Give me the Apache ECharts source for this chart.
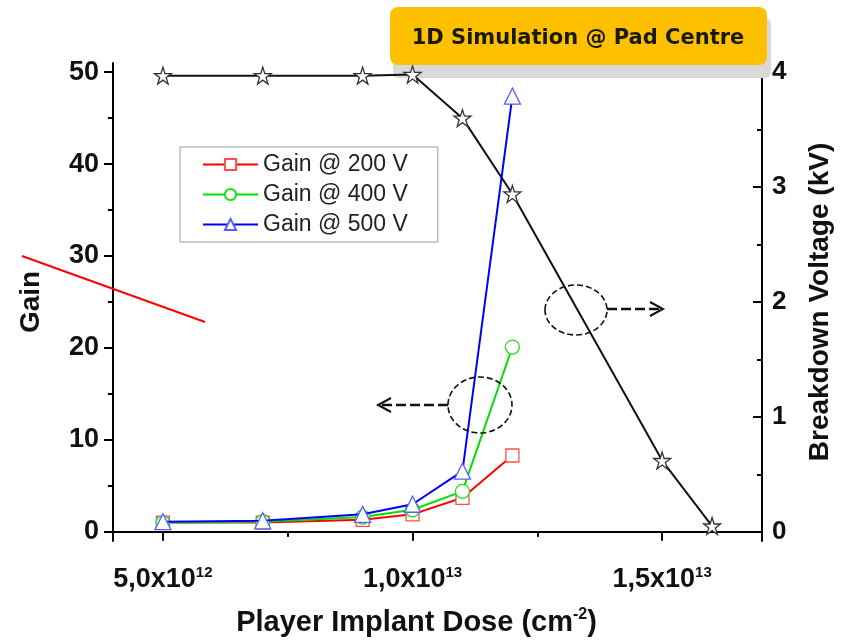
<!DOCTYPE html>
<html><head><meta charset="utf-8">
<script src="https://cdn.jsdelivr.net/npm/echarts@6/dist/echarts.min.js"></script>
<style>html,body{margin:0;padding:0;background:#fff}#c{width:850px;height:643px}</style>
</head><body><div id="c"></div>
<script>
// dose in units of 1e12 cm^-2
const doses = [5, 7, 9, 10, 11, 12];
const gain200 = [1.0, 1.0, 1.3, 1.9, 3.7, 8.3];
const gain400 = [1.0, 1.1, 1.6, 2.4, 4.4, 20.1];
const gain500 = [1.1, 1.2, 1.9, 3.0, 6.6, 47.4];
const bdDoses = [5, 7, 9, 10, 11, 12, 15, 16];
const breakdown = [3.97, 3.97, 3.97, 3.98, 3.6, 2.94, 0.62, 0.05];
const xTicks = [5, 10, 15];
const xMinor = [7.5, 12.5];
const gainTicks = [0, 10, 20, 30, 40, 50];
const gainMinor = [5, 15, 25, 35, 45];
const bvTicks = [0, 1, 2, 3, 4];
const bvMinor = [0.5, 1.5, 2.5, 3.5];
const seriesNames = ['Gain @ 200 V', 'Gain @ 400 V', 'Gain @ 500 V'];

const pair = (xs, ys) => xs.map((x, i) => [x, ys[i]]);
const STAR = 'path://M50,2 L61,36 L97,36 L68,57 L79,92 L50,71 L21,92 L32,57 L3,36 L39,36 Z';
const sans = 'Liberation Sans';

function xLabel(v) {
  const val = v * 1e12;
  const e = Math.floor(Math.log10(val) + 1e-9);
  const m = (val / Math.pow(10, e)).toFixed(1).replace('.', ',');
  return '{a|' + m + 'x10}{s|' + e + '}';
}

const chart = echarts.init(document.getElementById('c'), null, {renderer: 'canvas'});
const axisLineStyle = {show: true, lineStyle: {color: '#000', width: 2}};
const grid = {left: 113, right: 88, top: 63, bottom: 102};

chart.setOption({
  backgroundColor: '#fff',
  animation: false,
  textStyle: {fontFamily: sans},
  grid: grid,
  legend: {
    data: seriesNames,
    orient: 'vertical',
    left: 180, top: 147,
    itemWidth: 55, itemHeight: 14, itemGap: 7,
    padding: [6, 30, 6, 22],
    borderColor: '#999', borderWidth: 1,
    textStyle: {fontFamily: sans, fontSize: 23, color: '#222'}
  },
  xAxis: [
    {type: 'value', min: 4, max: 17, position: 'bottom',
     axisLine: axisLineStyle, splitLine: {show: false},
     axisTick: {show: true, inside: false, length: 9, lineStyle: {color: '#000', width: 2}, customValues: xTicks},
     axisLabel: {customValues: xTicks, margin: 24, formatter: xLabel,
       rich: {a: {fontFamily: sans, fontWeight: 'bold', fontSize: 27, color: '#111', lineHeight: 30},
              s: {fontFamily: sans, fontWeight: 'bold', fontSize: 15, color: '#111', verticalAlign: 'top', lineHeight: 14}}},
     name: '{a|Player Implant Dose (cm}{s|-2}{a|)}', nameLocation: 'middle', nameGap: 66,
     nameTextStyle: {padding: [0, 42, 0, 0],
                     rich: {a: {fontFamily: sans, fontWeight: 'bold', fontSize: 29, color: '#111', lineHeight: 32},
                            s: {fontFamily: sans, fontWeight: 'bold', fontSize: 16, color: '#111', verticalAlign: 'top', lineHeight: 14}}}
    },
    {type: 'value', min: 4, max: 17, position: 'bottom',
     axisLine: {show: false}, splitLine: {show: false}, axisLabel: {show: false},
     axisTick: {show: true, length: 5, lineStyle: {color: '#000', width: 2}, customValues: xMinor}},
    {type: 'value', min: 4, max: 17, position: 'top',
     axisLine: axisLineStyle, splitLine: {show: false}, axisLabel: {show: false},
     axisTick: {show: true, inside: true, length: 5, lineStyle: {color: '#000', width: 1.5}, customValues: xTicks.concat(xMinor)}}
  ],
  yAxis: [
    {type: 'value', min: -1, max: 51, position: 'left',
     axisLine: axisLineStyle, splitLine: {show: false},
     axisTick: {show: true, length: 9, lineStyle: {color: '#000', width: 2}, customValues: gainTicks},
     axisLabel: {customValues: gainTicks, margin: 14, fontFamily: sans, fontWeight: 'bold', fontSize: 27, color: '#111'},
     name: 'Gain', nameLocation: 'middle', nameGap: 68, nameRotate: 90,
     nameTextStyle: {fontFamily: sans, fontWeight: 'bold', fontSize: 28, color: '#111'}},
    {type: 'value', min: -1, max: 51, position: 'left',
     axisLine: {show: false}, splitLine: {show: false}, axisLabel: {show: false},
     axisTick: {show: true, length: 5, lineStyle: {color: '#000', width: 2}, customValues: gainMinor}},
    {type: 'value', min: -0.08, max: 4.08, position: 'right',
     axisLine: axisLineStyle, splitLine: {show: false},
     axisTick: {show: true, inside: true, length: 9, lineStyle: {color: '#000', width: 2}, customValues: bvTicks},
     axisLabel: {customValues: bvTicks, margin: 10, fontFamily: sans, fontWeight: 'bold', fontSize: 26, color: '#111'},
     name: 'Breakdown Voltage (kV)', nameLocation: 'middle', nameGap: 44, nameRotate: 90,
     nameTextStyle: {fontFamily: sans, fontWeight: 'bold', fontSize: 28, color: '#111'}},
    {type: 'value', min: -0.08, max: 4.08, position: 'right',
     axisLine: {show: false}, splitLine: {show: false}, axisLabel: {show: false},
     axisTick: {show: true, inside: true, length: 5, lineStyle: {color: '#000', width: 2}, customValues: bvMinor}}
  ],
  series: [
    {name: 'Breakdown', type: 'line', xAxisIndex: 0, yAxisIndex: 2, data: pair(bdDoses, breakdown),
     symbol: STAR, symbolSize: 17, lineStyle: {color: '#111', width: 2},
     itemStyle: {color: '#fff', borderColor: '#333', borderWidth: 1.3}, z: 3},
    {name: seriesNames[0], type: 'line', xAxisIndex: 0, yAxisIndex: 0, data: pair(doses, gain200),
     symbol: 'rect', symbolSize: 13, lineStyle: {color: '#ff0000', width: 2},
     itemStyle: {color: '#fff', borderColor: '#ff4d4d', borderWidth: 1.3}, z: 4},
    {name: seriesNames[1], type: 'line', xAxisIndex: 0, yAxisIndex: 0, data: pair(doses, gain400),
     symbol: 'circle', symbolSize: 14, lineStyle: {color: '#00e000', width: 2},
     itemStyle: {color: '#fff', borderColor: '#22dd22', borderWidth: 1.3}, z: 5},
    {name: seriesNames[2], type: 'line', xAxisIndex: 0, yAxisIndex: 0, data: pair(doses, gain500),
     symbol: 'triangle', symbolSize: 16, lineStyle: {color: '#0000ff', width: 2},
     itemStyle: {color: '#fff', borderColor: '#5c5cff', borderWidth: 1.3}, z: 6}
  ],
  graphic: [
    {type: 'rect', shape: {x: 393, y: 18, width: 378, height: 60, r: 6}, style: {fill: '#d9d9d9'}, z: 2},
    {type: 'rect', shape: {x: 390, y: 7, width: 377, height: 58, r: 8}, style: {fill: '#FFC000'}, z: 11},
    {type: 'text', x: 578, y: 39, z: 12,
     style: {text: '1D Simulation @ Pad Centre', fill: '#1a1a00', font: "bold 21px 'DejaVu Sans', sans-serif",
             align: 'center', verticalAlign: 'middle'}},
    {type: 'line', shape: {x1: 22, y1: 256, x2: 205, y2: 322}, style: {stroke: '#ff0000', lineWidth: 2}, z: 10},
    {type: 'ellipse', shape: {cx: 480, cy: 405, rx: 32, ry: 28}, style: {fill: null, stroke: '#111', lineWidth: 1.6, lineDash: [6, 3]}, z: 10},
    {type: 'ellipse', shape: {cx: 576, cy: 310, rx: 31, ry: 25}, style: {fill: null, stroke: '#111', lineWidth: 1.6, lineDash: [6, 3]}, z: 10},
    {type: 'line', shape: {x1: 448, y1: 405, x2: 380, y2: 405}, style: {stroke: '#111', lineWidth: 2.5, lineDash: [10, 4]}, z: 10},
    {type: 'polyline', shape: {points: [[391, 398], [378, 405], [391, 412]]}, style: {fill: null, stroke: '#111', lineWidth: 2}, z: 10},
    {type: 'line', shape: {x1: 607, y1: 309, x2: 660, y2: 309}, style: {stroke: '#111', lineWidth: 2.5, lineDash: [10, 4]}, z: 10},
    {type: 'polyline', shape: {points: [[650, 302], [663, 309], [650, 316]]}, style: {fill: null, stroke: '#111', lineWidth: 2}, z: 10}
  ]
});
</script></body></html>
